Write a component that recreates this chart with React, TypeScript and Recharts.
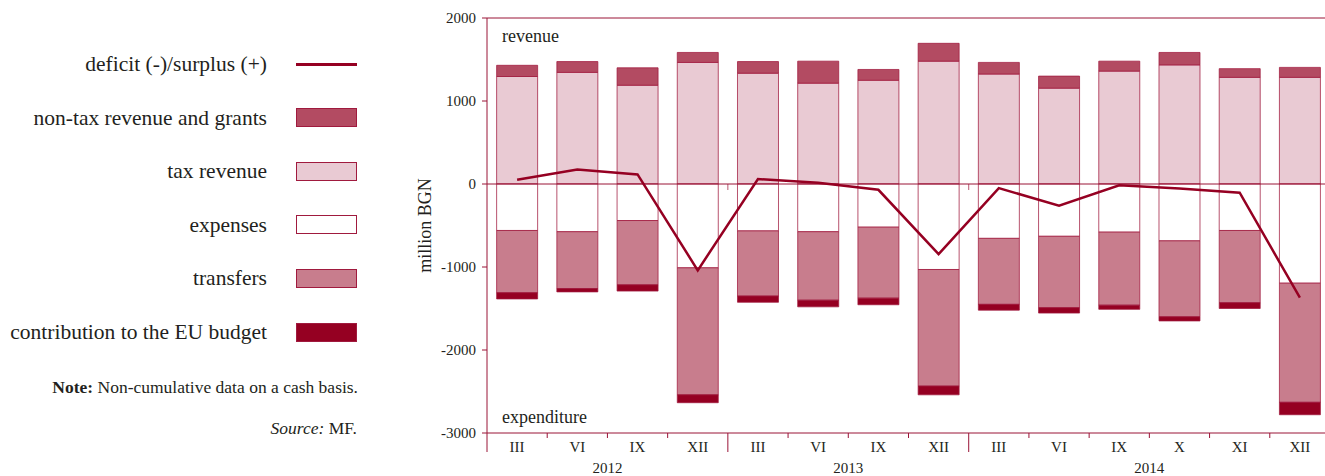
import React from 'react';
import { ComposedChart, Bar, Line, XAxis, YAxis, ReferenceLine } from 'recharts';

// quarters / months shown on the x axis, with their year
const PERIODS = ['III', 'VI', 'IX', 'XII', 'III', 'VI', 'IX', 'XII', 'III', 'VI', 'IX', 'X', 'XI', 'XII'];
const YEARS = ['2012', '2012', '2012', '2012', '2013', '2013', '2013', '2013', '2014', '2014', '2014', '2014', '2014', '2014'];

// million BGN
const TAX_REVENUE = [1295, 1345, 1190, 1465, 1335, 1215, 1250, 1480, 1325, 1155, 1360, 1435, 1285, 1285];
const NON_TAX_REVENUE = [135, 130, 210, 120, 140, 265, 130, 215, 140, 145, 120, 150, 105, 120];
const EXPENSES = [-560, -575, -440, -1010, -565, -575, -520, -1030, -655, -630, -580, -685, -560, -1195];
const TRANSFERS = [-750, -685, -775, -1530, -785, -825, -855, -1405, -795, -860, -880, -915, -870, -1435];
const EU_CONTRIBUTION = [-75, -40, -75, -95, -75, -80, -80, -105, -70, -65, -50, -50, -70, -150];
const BALANCE = [50, 175, 115, -1040, 60, 15, -70, -845, -50, -260, -15, -55, -105, -1370];

const Y_MIN = -3000;
const Y_MAX = 2000;
const Y_TICKS = [2000, 1000, 0, -1000, -2000, -3000];

const AXIS = '#9a1437';
const BORDER = '#a01a3e';
const FONT = "'Liberation Serif', 'Times New Roman', Times, 'DejaVu Serif', serif";
const TEXT = '#231f20';

const C_NONTAX = '#b34b62';
const C_TAX = '#e9cad3';
const C_EXP = '#ffffff';
const C_TRANSFERS = '#c87d8d';
const C_EU = '#950022';
const C_LINE = '#950022';

const data = PERIODS.map((p, i) => ({
  key: `${YEARS[i]}-${p}`,
  period: p,
  year: YEARS[i],
  tax: TAX_REVENUE[i],
  nonTax: NON_TAX_REVENUE[i],
  expenses: EXPENSES[i],
  transfers: TRANSFERS[i],
  eu: EU_CONTRIBUTION[i],
  balance: BALANCE[i],
}));

const CHART_W = 1330;
const CHART_H = 476;
const TOP = 18;
const X_AXIS_H = 43;
const PLOT_LEFT = 487;
const PLOT_H = CHART_H - TOP - X_AXIS_H;
const BAND = (CHART_W - PLOT_LEFT) / PERIODS.length;

function PeriodTick(props: any) {
  const { x, y, index } = props;
  const left = x - BAND / 2;
  const yearStart = index === 0 || YEARS[index] !== YEARS[index - 1];
  const count = YEARS.filter((yy) => yy === YEARS[index]).length;
  // zero line sits -Y_MIN/(range) of the plot height above the axis
  const zeroY = y - (PLOT_H * -Y_MIN) / (Y_MAX - Y_MIN);
  return (
    <g>
      <line x1={left} x2={left} y1={y} y2={yearStart ? y + 19 : y + 5} stroke={AXIS} strokeWidth={1} />
      {yearStart && index > 0 && (
        <line x1={left} x2={left} y1={zeroY} y2={zeroY + 6} stroke={AXIS} strokeWidth={1} strokeOpacity={0.7} />
      )}
      <text x={x} y={y + 19} textAnchor="middle" fontSize={15} style={{ fontFamily: FONT }} fill={TEXT}>
        {PERIODS[index]}
      </text>
      {yearStart && (
        <text x={x + ((count - 1) * BAND) / 2} y={y + 40} textAnchor="middle" fontSize={15} style={{ fontFamily: FONT }} fill={TEXT}>
          {YEARS[index]}
        </text>
      )}
    </g>
  );
}

const LEGEND = [
  { label: 'deficit (-)/surplus (+)', color: C_LINE, line: true },
  { label: 'non-tax revenue and grants', color: C_NONTAX },
  { label: 'tax revenue', color: C_TAX },
  { label: 'expenses', color: C_EXP },
  { label: 'transfers', color: C_TRANSFERS },
  { label: 'contribution to the EU budget', color: C_EU },
];

export default function App() {
  return (
    <div style={{ position: 'absolute', left: 0, top: 0, width: 1325, height: CHART_H, overflow: 'hidden', background: '#fff', fontFamily: FONT, color: TEXT }}>
      {LEGEND.map((item, i) => {
        const cy = 64 + i * 53.6;
        return (
          <React.Fragment key={item.label}>
            <div style={{ position: 'absolute', left: 0, width: 267, top: cy - 13, height: 26, lineHeight: '26px', textAlign: 'right', fontSize: 21.5, whiteSpace: 'nowrap' }}>
              {item.label}
            </div>
            {item.line ? (
              <div style={{ position: 'absolute', left: 296, width: 61, top: cy - 1.5, height: 3, background: item.color }} />
            ) : (
              <div style={{ position: 'absolute', left: 296, width: 61, top: cy - 9.5, height: 19, boxSizing: 'border-box', background: item.color, border: `1px solid ${BORDER}` }} />
            )}
          </React.Fragment>
        );
      })}
      <div style={{ position: 'absolute', left: 0, width: 358, top: 376, lineHeight: '22px', textAlign: 'right', fontSize: 17.5, whiteSpace: 'nowrap' }}>
        <b>Note:</b> Non-cumulative data on a cash basis.
      </div>
      <div style={{ position: 'absolute', left: 0, width: 357, top: 417, lineHeight: '22px', textAlign: 'right', fontSize: 17.5, whiteSpace: 'nowrap' }}>
        <i>Source:</i> MF.
      </div>

      <div style={{ position: 'absolute', left: 0, top: 0 }}>
        <ComposedChart
          width={CHART_W}
          height={CHART_H}
          data={data}
          stackOffset="sign"
          barCategoryGap="16%"
          margin={{ top: TOP, right: 0, bottom: 0, left: PLOT_LEFT - 62 }}
        >
          <XAxis
            dataKey="key"
            height={X_AXIS_H}
            axisLine={{ stroke: AXIS }}
            tickLine={false}
            tickSize={0}
            tickMargin={0}
            interval={0}
            tick={<PeriodTick />}
          />
          <YAxis
            width={62}
            domain={[Y_MIN, Y_MAX]}
            ticks={Y_TICKS}
            interval={0}
            axisLine={{ stroke: AXIS }}
            tickLine={{ stroke: AXIS }}
            tickSize={5}
            tickMargin={6}
            tick={{ fontSize: 15, style: { fontFamily: FONT }, fill: TEXT }}
            label={{
              content: (p: any) => {
                const vb = p.viewBox;
                const cx = vb.x;
                const cy = vb.y + vb.height / 2;
                return (
                  <text x={cx} y={cy} transform={`rotate(-90 ${cx} ${cy})`} textAnchor="middle" dominantBaseline="central" fontSize={18} style={{ fontFamily: FONT }} fill={TEXT}>
                    million BGN
                  </text>
                );
              },
            }}
          />
          <ReferenceLine y={Y_MAX} stroke={AXIS} strokeWidth={1} />
          <Bar dataKey="tax" stackId="a" fill={C_TAX} stroke={BORDER} strokeOpacity={0.75} isAnimationActive={false} />
          <Bar dataKey="nonTax" stackId="a" fill={C_NONTAX} stroke={BORDER} strokeOpacity={0.75} isAnimationActive={false} />
          <Bar dataKey="expenses" stackId="a" fill={C_EXP} stroke={BORDER} strokeOpacity={0.75} isAnimationActive={false} />
          <Bar dataKey="transfers" stackId="a" fill={C_TRANSFERS} stroke={BORDER} strokeOpacity={0.75} isAnimationActive={false} />
          <Bar dataKey="eu" stackId="a" fill={C_EU} stroke={BORDER} strokeOpacity={0.75} isAnimationActive={false} />
          <ReferenceLine y={0} stroke={AXIS} strokeWidth={1} />
          <Line dataKey="balance" type="linear" stroke={C_LINE} strokeWidth={2.5} dot={false} activeDot={false} isAnimationActive={false} />
        </ComposedChart>
      </div>

      <div style={{ position: 'absolute', left: 502, top: 26, fontSize: 18, lineHeight: '20px' }}>revenue</div>
      <div style={{ position: 'absolute', left: 502, top: 407, fontSize: 18, lineHeight: '20px' }}>expenditure</div>
    </div>
  );
}
